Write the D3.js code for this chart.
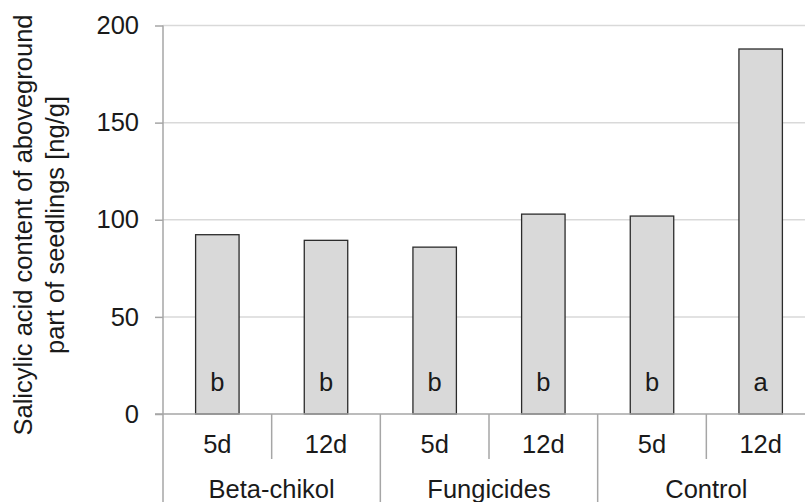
<!DOCTYPE html>
<html>
<head>
<meta charset="utf-8">
<script src="https://cdn.jsdelivr.net/npm/d3@7"></script>
<style>
  body { margin: 0; background: #fff; }
  svg { display: block; font-family: "Liberation Sans", Arial, sans-serif; }
</style>
</head>
<body>
<div id="chart"></div>
<script>
// data
const groups = ['Beta-chikol', 'Fungicides', 'Control'];
const days = ['5d', '12d'];
const values = [92.3, 89.4, 85.9, 102.9, 101.9, 187.9];
const letters = ['b', 'b', 'b', 'b', 'b', 'a'];
const yTicks = [0, 50, 100, 150, 200];

const width = 805, height = 502;
const plotLeft = 163, plotRight = 815, plotTop = 25.5, plotBottom = 414;
const fontSize = 25.5;

const bars = [];
groups.forEach((g, gi) => days.forEach((d, di) => {
  const i = gi * days.length + di;
  bars.push({ key: g + '|' + d, group: g, day: d, value: values[i], letter: letters[i], first: di === 0 });
}));

const svg = d3.select('#chart')
  .append('svg')
  .attr('width', width)
  .attr('height', height);

const x = d3.scaleBand()
  .domain(bars.map(d => d.key))
  .range([plotLeft, plotRight])
  .paddingInner(0.6)
  .paddingOuter(0.3);

const y = d3.scaleLinear()
  .domain([0, 200])
  .range([plotBottom, plotTop]);

const step = x.step();
const gap = (step - x.bandwidth()) / 2;

// gridlines
svg.append('g')
  .selectAll('line')
  .data(yTicks.filter(t => t > 0))
  .join('line')
  .attr('x1', plotLeft).attr('x2', plotRight)
  .attr('y1', d => y(d)).attr('y2', d => y(d))
  .attr('stroke', '#d9d9d9')
  .attr('stroke-width', 1.5);

// y axis
const yAxis = svg.append('g')
  .attr('transform', `translate(${plotLeft},0)`)
  .call(d3.axisLeft(y).tickValues(yTicks).tickSize(8).tickPadding(16));
yAxis.select('.domain').remove();
yAxis.selectAll('.tick line').attr('stroke', '#a6a6a6').attr('stroke-width', 1.5);
yAxis.selectAll('.tick text')
  .attr('font-size', fontSize)
  .attr('fill', '#1a1a1a')
  .attr('font-family', '"Liberation Sans", Arial, sans-serif');

// bars
svg.append('g')
  .selectAll('rect')
  .data(bars)
  .join('rect')
  .attr('x', d => x(d.key))
  .attr('y', d => y(d.value))
  .attr('width', x.bandwidth())
  .attr('height', d => y(0) - y(d.value))
  .attr('fill', '#d9d9d9')
  .attr('stroke', '#2b2b2b')
  .attr('stroke-width', 1.3);

// significance letters
svg.append('g')
  .selectAll('text')
  .data(bars)
  .join('text')
  .attr('x', d => x(d.key) + x.bandwidth() / 2)
  .attr('y', y(0) - 23)
  .attr('text-anchor', 'middle')
  .attr('font-size', fontSize)
  .attr('fill', '#1a1a1a')
  .text(d => d.letter);

// axis lines
svg.append('line')
  .attr('x1', plotLeft - 8).attr('x2', plotRight)
  .attr('y1', plotBottom).attr('y2', plotBottom)
  .attr('stroke', '#a6a6a6').attr('stroke-width', 1.5);

svg.append('line')
  .attr('x1', plotLeft).attr('x2', plotLeft)
  .attr('y1', plotTop).attr('y2', height)
  .attr('stroke', '#a6a6a6').attr('stroke-width', 1.5);

// separators of the two-level category axis
svg.append('g')
  .selectAll('line')
  .data(bars.filter((d, i) => i > 0))
  .join('line')
  .attr('x1', d => x(d.key) - gap).attr('x2', d => x(d.key) - gap)
  .attr('y1', plotBottom)
  .attr('y2', d => d.first ? height : 459)
  .attr('stroke', '#a6a6a6').attr('stroke-width', 1.5);

// day labels
svg.append('g')
  .selectAll('text')
  .data(bars)
  .join('text')
  .attr('x', d => x(d.key) + x.bandwidth() / 2)
  .attr('y', 452.5)
  .attr('text-anchor', 'middle')
  .attr('font-size', fontSize)
  .attr('fill', '#1a1a1a')
  .text(d => d.day);

// group labels
svg.append('g')
  .selectAll('text')
  .data(groups)
  .join('text')
  .attr('x', (g, gi) => plotLeft + step * days.length * (gi + 0.5))
  .attr('y', 497.5)
  .attr('text-anchor', 'middle')
  .attr('font-size', fontSize)
  .attr('fill', '#1a1a1a')
  .text(g => g);

// y axis title
const title = svg.append('text')
  .attr('transform', 'translate(0,225) rotate(-90)')
  .attr('text-anchor', 'middle')
  .attr('font-size', fontSize)
  .attr('fill', '#1a1a1a');
title.append('tspan').attr('x', 0).attr('y', 32).text('Salicylic acid content of aboveground');
title.append('tspan').attr('x', 0).attr('y', 63.5).text('part of seedlings [ng/g]');
</script>
</body>
</html>
